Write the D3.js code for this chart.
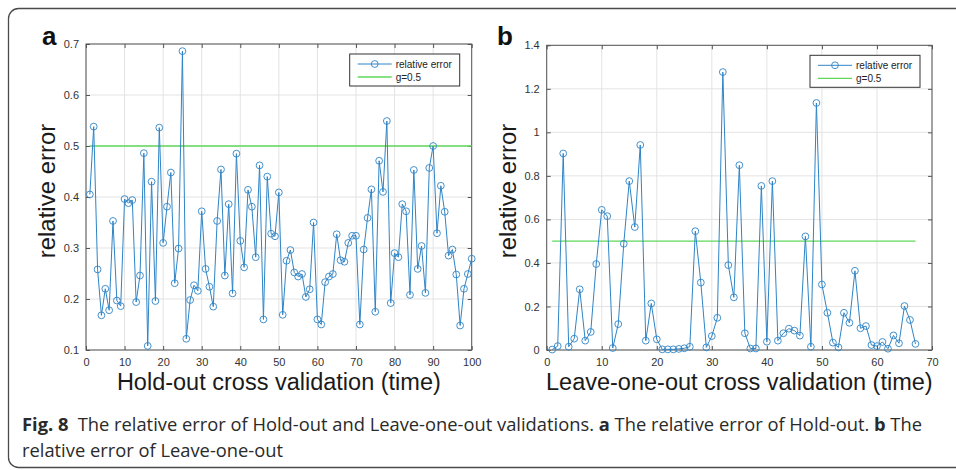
<!DOCTYPE html>
<html>
<head>
<meta charset="utf-8">
<script src="https://cdn.jsdelivr.net/npm/d3@7"></script>
<style>
html,body{margin:0;padding:0;background:#fff;}
svg{display:block;}
</style>
</head>
<body>
<svg id="chart" width="956" height="470"></svg>
<script>
// ---------- data ----------
const holdOutTimes = d3.range(1, 101);
const holdOutError = [
 0.405,0.538,0.258,0.168,0.220,0.178,0.353,0.197,0.186,0.396,
 0.388,0.394,0.194,0.246,0.486,0.108,0.430,0.196,0.536,0.310,
 0.381,0.448,0.231,0.299,0.686,0.122,0.198,0.227,0.216,0.372,
 0.259,0.224,0.185,0.353,0.454,0.246,0.386,0.211,0.485,0.314,
 0.262,0.414,0.381,0.282,0.462,0.160,0.440,0.328,0.323,0.409,
 0.169,0.275,0.296,0.252,0.244,0.249,0.204,0.219,0.350,0.160,
 0.150,0.233,0.244,0.249,0.327,0.276,0.273,0.310,0.324,0.324,
 0.150,0.297,0.359,0.415,0.175,0.471,0.410,0.549,0.192,0.290,
 0.282,0.386,0.372,0.208,0.453,0.259,0.304,0.212,0.457,0.500,
 0.329,0.422,0.371,0.285,0.297,0.248,0.148,0.220,0.249,0.279
];
const looTimes = d3.range(1, 68);
const looError = [
 0.002,0.018,0.903,0.015,0.052,0.279,0.043,0.083,0.395,0.644,
 0.615,0.009,0.119,0.488,0.776,0.565,0.942,0.043,0.214,0.049,
 0.003,0.003,0.003,0.005,0.008,0.015,0.546,0.310,0.012,0.064,
 0.148,1.277,0.390,0.242,0.849,0.077,0.007,0.007,0.754,0.038,
 0.776,0.043,0.077,0.098,0.089,0.066,0.522,0.015,1.135,0.301,
 0.171,0.034,0.012,0.171,0.125,0.364,0.100,0.110,0.023,0.018,
 0.037,0.006,0.067,0.031,0.202,0.138,0.028
];
const threshold = 0.5;
const holdOutXTicks = d3.range(0, 101, 10);
const holdOutYTicks = [0.1,0.2,0.3,0.4,0.5,0.6,0.7];
const looXTicks = d3.range(0, 71, 10);
const looYTicks = [0,0.2,0.4,0.6,0.8,1,1.2,1.4];
const legendLabels = ["relative error", "g=0.5"];
const panelLabels = ["a", "b"];
const xTitles = ["Hold-out cross validation (time)", "Leave-one-out cross validation (time)"];
const yTitle = "relative error";
const captionBold = ["Fig. 8", "a", "b"];

// ---------- style ----------
const BLUE = "#2f84c6";
const GREEN = "#5fd85a";
const GRID = "#e3e3e3";
const AXIS = "#555";
const FONT = "'Liberation Sans', Arial, Helvetica, sans-serif";

const svg = d3.select("#chart");

// outer frame
svg.append("rect")
  .attr("x", 8.5).attr("y", 8.5)
  .attr("width", 980).attr("height", 459)
  .attr("rx", 10).attr("ry", 10)
  .attr("fill", "none").attr("stroke", "#4a4a4a").attr("stroke-width", 1.3);

function panel(cfg) {
  const x = d3.scaleLinear().domain(cfg.xDomain).range([cfg.left, cfg.right]);
  const y = d3.scaleLinear().domain(cfg.yDomain).range([cfg.bottom, cfg.top]);
  const g = svg.append("g");

  // grid
  g.append("g").selectAll("line.vg").data(cfg.xTicks).join("line")
    .attr("x1", d => x(d)).attr("x2", d => x(d))
    .attr("y1", cfg.top).attr("y2", cfg.bottom)
    .attr("stroke", GRID).attr("stroke-width", 1);
  g.append("g").selectAll("line.hg").data(cfg.yTicks).join("line")
    .attr("y1", d => y(d)).attr("y2", d => y(d))
    .attr("x1", cfg.left).attr("x2", cfg.right)
    .attr("stroke", GRID).attr("stroke-width", 1);

  // axes (inward ticks, mirrored)
  const tl = 4;
  const axB = d3.axisBottom(x).tickValues(cfg.xTicks).tickSize(-tl).tickPadding(8)
    .tickFormat(d => d3.format("")(d));
  const axT = d3.axisTop(x).tickValues(cfg.xTicks).tickSize(-tl).tickFormat("");
  const axL = d3.axisLeft(y).tickValues(cfg.yTicks).tickSize(-tl).tickPadding(7)
    .tickFormat(d => String(+d.toFixed(2)));
  const axR = d3.axisRight(y).tickValues(cfg.yTicks).tickSize(-tl).tickFormat("");

  const styleAxis = sel => {
    sel.select(".domain").remove();
    sel.selectAll(".tick line").attr("stroke", AXIS);
    sel.selectAll(".tick text").attr("fill", "#333").style("font-family", FONT).style("font-size", "11px");
  };
  g.append("g").attr("transform", `translate(0,${cfg.bottom})`).call(axB).call(styleAxis);
  g.append("g").attr("transform", `translate(0,${cfg.top})`).call(axT).call(styleAxis);
  g.append("g").attr("transform", `translate(${cfg.left},0)`).call(axL).call(styleAxis);
  g.append("g").attr("transform", `translate(${cfg.right},0)`).call(axR).call(styleAxis);

  // box
  g.append("rect")
    .attr("x", cfg.left).attr("y", cfg.top)
    .attr("width", cfg.right - cfg.left).attr("height", cfg.bottom - cfg.top)
    .attr("fill", "none").attr("stroke", AXIS).attr("stroke-width", 1);

  // threshold line
  const first = cfg.xs[0], last = cfg.xs[cfg.xs.length - 1];
  g.append("line")
    .attr("x1", x(first)).attr("x2", x(last))
    .attr("y1", y(threshold)).attr("y2", y(threshold))
    .attr("stroke", GREEN).attr("stroke-width", 1.3);

  // series
  const pts = cfg.xs.map((t, i) => [t, cfg.ys[i]]);
  g.append("path").datum(pts)
    .attr("d", d3.line().x(d => x(d[0])).y(d => y(d[1])))
    .attr("fill", "none").attr("stroke", BLUE).attr("stroke-width", 1);
  g.append("g").selectAll("circle").data(pts).join("circle")
    .attr("cx", d => x(d[0])).attr("cy", d => y(d[1])).attr("r", 3.4)
    .attr("fill", "none").attr("stroke", BLUE).attr("stroke-width", 0.9);

  // legend
  const lw = 110, lh = 32;
  const lx = cfg.right - 12 - lw, ly = cfg.top + 10;
  const lg = g.append("g");
  lg.append("rect").attr("x", lx).attr("y", ly).attr("width", lw).attr("height", lh)
    .attr("fill", "#fff").attr("stroke", "#333").attr("stroke-width", 1);
  const rows = [ly + 10, ly + 23];
  lg.append("line").attr("x1", lx + 8).attr("x2", lx + 42).attr("y1", rows[0]).attr("y2", rows[0])
    .attr("stroke", BLUE).attr("stroke-width", 1);
  lg.append("circle").attr("cx", lx + 25).attr("cy", rows[0]).attr("r", 3.4)
    .attr("fill", "none").attr("stroke", BLUE).attr("stroke-width", 0.9);
  lg.append("line").attr("x1", lx + 8).attr("x2", lx + 42).attr("y1", rows[1]).attr("y2", rows[1])
    .attr("stroke", GREEN).attr("stroke-width", 1.3);
  lg.selectAll("text").data(legendLabels).join("text")
    .attr("x", lx + 46).attr("y", (d, i) => rows[i] + 3.5)
    .text(d => d).attr("fill", "#222")
    .style("font-family", FONT).style("font-size", "10px");

  // titles
  svg.append("text")
    .attr("x", (cfg.left + cfg.right) / 2).attr("y", 390)
    .attr("text-anchor", "middle").attr("fill", "#1a1a1a")
    .style("font-family", FONT).style("font-size", "23.5px")
    .text(cfg.xTitle);
  svg.append("text")
    .attr("transform", `translate(${cfg.yTitleX},191) rotate(-90)`)
    .attr("text-anchor", "middle").attr("fill", "#1a1a1a")
    .style("font-family", FONT).style("font-size", "24px")
    .text(yTitle);
  svg.append("text")
    .attr("x", cfg.labelX).attr("y", 45)
    .attr("fill", "#111").style("font-family", FONT)
    .style("font-size", "26px").style("font-weight", "bold")
    .text(cfg.label);
}

panel({
  xs: holdOutTimes, ys: holdOutError,
  xDomain: [0, 100], yDomain: [0.1, 0.7],
  xTicks: holdOutXTicks, yTicks: holdOutYTicks,
  left: 86, right: 471.7, top: 44, bottom: 350,
  xTitle: xTitles[0], yTitleX: 55, label: panelLabels[0], labelX: 42
});
panel({
  xs: looTimes, ys: looError,
  xDomain: [0, 70], yDomain: [0, 1.4],
  xTicks: looXTicks, yTicks: looYTicks,
  left: 546.7, right: 932, top: 45.3, bottom: 350,
  xTitle: xTitles[1], yTitleX: 516, label: panelLabels[1], labelX: 497
});

// caption
const CAPFONT = "'Liberation Sans Narrow', 'Open Sans', 'Liberation Sans', sans-serif";
const cap = svg.append("g").attr("fill", "#2a2a2a")
  .style("font-family", CAPFONT).style("font-size", "18px");
const line1 = cap.append("text").attr("x", 22).attr("y", 431);
line1.append("tspan").style("font-weight", "bold").text(captionBold[0]);
line1.append("tspan").text("\u2002The relative error of Hold-out and Leave-one-out validations. ");
line1.append("tspan").style("font-weight", "bold").text(captionBold[1]);
line1.append("tspan").text(" The relative error of Hold-out. ");
line1.append("tspan").style("font-weight", "bold").text(captionBold[2]);
line1.append("tspan").text(" The");
const line2 = cap.append("text").attr("x", 22).attr("y", 457).text("relative error of Leave-one-out");
const L1 = line1.node().getComputedTextLength();
const L2 = line2.node().getComputedTextLength();
const ratio = 900 / L1;
line1.attr("textLength", 900).attr("lengthAdjust", "spacingAndGlyphs");
line2.attr("textLength", L2 * ratio).attr("lengthAdjust", "spacingAndGlyphs");
</script>
</body>
</html>
